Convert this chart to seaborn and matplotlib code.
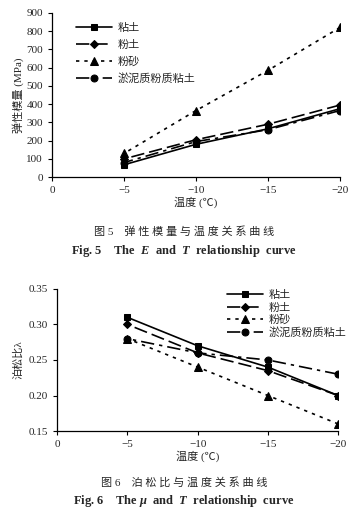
import matplotlib

matplotlib.use("Agg")

import matplotlib.pyplot as plt
import pandas as pd
import seaborn as sns

temps = [-5, -10, -15, -20]
soil_names = ["粘土", "粉土", "粉砂", "淤泥质粉质粘土"]

# elastic modulus (MPa)
e_clay = [68, 180, 265, 375]
e_silt = [100, 205, 290, 395]
e_sand = [130, 365, 585, 820]
e_mud = [80, 195, 260, 365]

# Poisson ratio
mu_clay = [0.31, 0.27, 0.24, 0.20]
mu_silt = [0.30, 0.26, 0.235, 0.20]
mu_sand = [0.28, 0.24, 0.20, 0.16]
mu_mud = [0.28, 0.26, 0.25, 0.23]

sns.set_theme(style="ticks")
plt.rcParams["font.family"] = ["Liberation Serif", "Noto Sans CJK SC"]
plt.rcParams["axes.unicode_minus"] = True
plt.rcParams["mathtext.fontset"] = "custom"
plt.rcParams["mathtext.it"] = "Liberation Serif:italic:bold"
plt.rcParams["mathtext.rm"] = "Liberation Serif:bold"

markers = ["s", "D", "^", "o"]
marker_sizes = [5, 4, 6, 5]
dashes = [(None, None), (8, 3), (2, 3), (8, 3, 2, 3)]


def draw_panel(ax, series, ylim, yticks, yfmt):
    for name, vals, mk, ms, ds in zip(soil_names, series, markers, marker_sizes, dashes):
        df = pd.DataFrame({"T": temps, "v": vals})
        sns.lineplot(data=df, x="T", y="v", ax=ax, color="black", marker=mk,
                     markersize=ms, markeredgecolor="black", linewidth=1.2, label=name)
        if ds[0] is not None:
            ax.lines[-1].set_dashes(ds)
    ax.set_xlim(0, -20)
    ax.set_xticks([0, -5, -10, -15, -20])
    ax.set_xticklabels(["0", "−5", "−10", "−15", "−20"])
    ax.set_ylim(*ylim)
    ax.set_yticks(yticks)
    ax.set_yticklabels([yfmt.format(t) for t in yticks])
    ax.tick_params(labelsize=8, length=3, width=0.8, color="black")
    for s in ["top", "right"]:
        ax.spines[s].set_visible(False)
    for s in ["left", "bottom"]:
        ax.spines[s].set_color("black")
        ax.spines[s].set_linewidth(0.9)
    ax.set_xlabel("温度 (℃)", fontsize=8, labelpad=1)


fig = plt.figure(figsize=(3.64, 5.15), dpi=100)
ax1 = fig.add_axes([0.143, 0.656, 0.791, 0.319])
ax2 = fig.add_axes([0.157, 0.163, 0.772, 0.276])

draw_panel(ax1, [e_clay, e_silt, e_sand, e_mud], (0, 900), list(range(0, 901, 100)), "{:d}")
ax1.set_ylabel("弹性模量 (MPa)", fontsize=8, labelpad=2)
ax1.legend(loc="upper left", bbox_to_anchor=(0.05, 1.0), frameon=False, fontsize=8,
           handlelength=3.2, labelspacing=0.6, handletextpad=0.5)

draw_panel(ax2, [mu_clay, mu_silt, mu_sand, mu_mud], (0.15, 0.35),
           [0.15, 0.20, 0.25, 0.30, 0.35], "{:.2f}")
ax2.set_ylabel("泊松比λ", fontsize=8, labelpad=4)
ax2.legend(loc="upper left", bbox_to_anchor=(0.57, 1.06), frameon=False, fontsize=8,
           handlelength=3.2, labelspacing=0.2, handletextpad=0.5)

fig.text(0.505, 0.551, "图 5    弹 性 模 量 与 温 度 关 系 曲 线", ha="center", va="center", fontsize=8)
fig.text(0.505, 0.512, "Fig. 5    The  $E$  and  $T$  relationship  curve",
         ha="center", va="center", fontsize=9, fontweight="bold")
fig.text(0.505, 0.064, "图 6    泊 松 比 与 温 度 关 系 曲 线", ha="center", va="center", fontsize=8)
fig.text(0.505, 0.027, "Fig. 6    The $\\mu$  and  $T$  relationship  curve",
         ha="center", va="center", fontsize=9, fontweight="bold")

fig.savefig("out.png", dpi=100)
